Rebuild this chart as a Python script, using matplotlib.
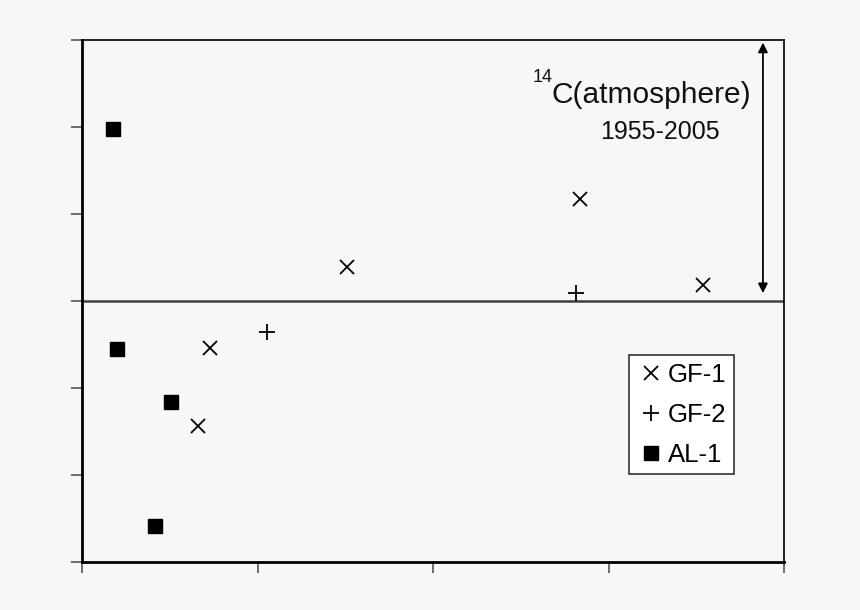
import matplotlib.pyplot as plt

plt.rcParams['font.family'] = ['Liberation Sans', 'DejaVu Sans']

# Data (arbitrary units, no axis labels shown)
gf1_x = [1.51, 2.84, 3.54, 0.73, 0.66]
gf1_y = [0.39, 1.17, 0.18, -0.54, -1.44]
gf2_x = [2.815, 1.054]
gf2_y = [0.09, -0.36]
al1_x = [0.177, 0.20, 0.507, 0.416]
al1_y = [1.98, -0.55, -1.16, -2.59]

# atmospheric 14C range arrow
arrow_x = 3.88
arrow_y = [2.97, 0.09]

bg = '#f7f7f7'
fig = plt.figure(figsize=(8.6, 6.1), dpi=100, facecolor=bg)
ax = fig.add_axes([82/860, 1 - 562/610, 702/860, 522/610], facecolor=bg)

ax.plot(gf1_x, gf1_y, 'x', color='black', ms=10, mew=1.3, label='GF-1', linestyle='none')
ax.plot(gf2_x, gf2_y, '+', color='black', ms=11, mew=1.3, label='GF-2', linestyle='none')
ax.plot(al1_x, al1_y, 's', color='black', ms=9.5, label='AL-1', linestyle='none')

ax.axhline(0, color='#404040', lw=1.8, zorder=1)

ax.annotate('', xy=(arrow_x, arrow_y[0]), xytext=(arrow_x, arrow_y[1]),
            arrowprops=dict(arrowstyle='<|-|>', color='black', lw=1.3,
                            mutation_scale=14, shrinkA=0, shrinkB=0))

# label: small "14" superscript drawn as its own text
ax.text(2.57, 2.517, '14', fontsize=13, ha='left', va='baseline', color='#111111')
ax.text(2.678, 2.276, 'C(atmosphere)', fontsize=21.5, ha='left', va='baseline',
        color='#111111')
ax.text(3.293, 1.862, '1955-2005', fontsize=18, ha='center', va='baseline', color='#111111')

ax.set_xlim(0, 4)
ax.set_ylim(-3, 3)
ax.set_xticks([0, 1, 2, 3, 4])
ax.set_yticks([-3, -2, -1, 0, 1, 2, 3])
ax.set_xticklabels([])
ax.set_yticklabels([])
ax.tick_params(direction='out', length=8, width=1.2, color='#555555')

for side in ['left', 'bottom']:
    ax.spines[side].set_linewidth(2)
for side in ['top', 'right']:
    ax.spines[side].set_linewidth(1.2)

leg = ax.legend(loc='upper left', bbox_to_anchor=((629 - 82)/702, (562 - 355)/522),
                fontsize=18.5, frameon=True, fancybox=False, edgecolor='#333333',
                facecolor='white', framealpha=1, handlelength=1.15, handletextpad=0.05,
                borderpad=0.3, labelspacing=0.62, borderaxespad=0)
leg.get_frame().set_linewidth(1.2)

fig.savefig('out.png', dpi=100, facecolor=bg)
